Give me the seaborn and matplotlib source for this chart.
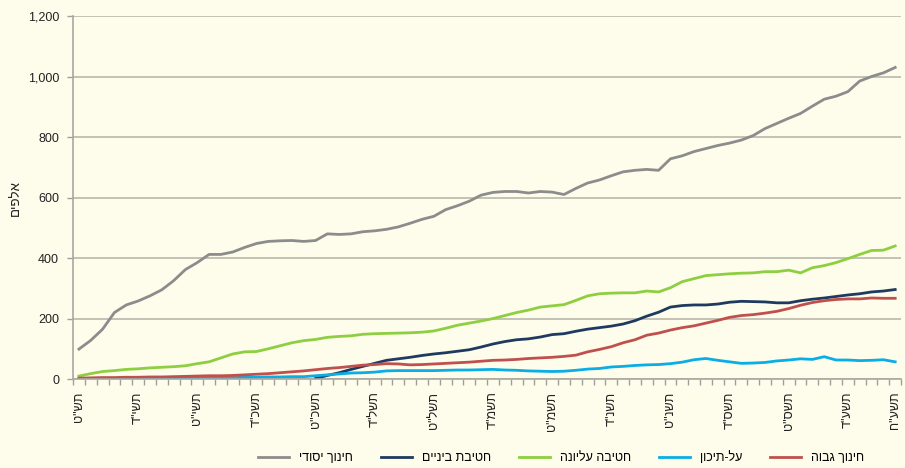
import matplotlib
matplotlib.use('Agg')
import matplotlib.pyplot as plt
import pandas as pd
import seaborn as sb
import numpy as np

# Hebrew has no bidi support in matplotlib -> reverse strings for display
def heb(s):
    return s[::-1]

tick_pos = [0, 5, 10, 15, 20, 25, 30, 35, 40, 45, 50, 55, 60, 65, 69]
tick_labels = ['תש"ט', 'תשי"ד', 'תשי"ט', 'תשכ"ד', 'תשכ"ט', 'תשל"ד', 'תשל"ט', 'תשמ"ד',
               'תשמ"ט', 'תשנ"ד', 'תשנ"ט', 'תשס"ד', 'תשס"ט', 'תשע"ד', 'תשע"ח']

primary = [99, 128, 165, 220, 245, 258, 275, 295, 325, 362,
           385, 412, 412, 420, 435, 448, 455, 457, 458, 455,
           458, 480, 478, 480, 487, 490, 495, 503, 515, 528,
           538, 560, 573, 588, 608, 617, 620, 620, 615, 620,
           618, 610, 630, 648, 658, 672, 685, 690, 693, 690,
           728, 738, 752, 762, 772, 780, 790, 805, 828, 845,
           862, 878, 902, 925, 935, 950, 985, 1000, 1012, 1030]

middle = [np.nan] * 20 + [
          2, 12, 21, 32, 42, 52, 62, 67, 72, 78,
          83, 87, 92, 97, 106, 116, 124, 130, 133, 139,
          147, 150, 158, 165, 170, 175, 182, 193, 208, 221,
          238, 243, 245, 245, 248, 254, 257, 256, 255, 252,
          252, 259, 264, 268, 273, 278, 282, 288, 291, 296]

upper = [10, 18, 25, 28, 32, 34, 37, 39, 41, 44,
         51, 57, 70, 83, 90, 91, 100, 110, 120, 127,
         131, 138, 141, 143, 148, 150, 151, 152, 153, 155,
         159, 168, 178, 185, 192, 200, 210, 220, 228, 238,
         242, 246, 260, 275, 282, 284, 285, 285, 291, 288,
         302, 322, 332, 342, 345, 348, 350, 351, 355, 355,
         360, 351, 368, 375, 385, 398, 412, 425, 426, 440]

post_secondary = [1, 1, 2, 2, 2, 3, 3, 3, 4, 4,
                  4, 5, 5, 5, 6, 6, 7, 7, 8, 8,
                  11, 14, 17, 20, 21, 23, 27, 28, 28, 28,
                  28, 29, 30, 30, 31, 32, 30, 29, 27, 26,
                  25, 26, 29, 33, 35, 40, 42, 45, 47, 48,
                  51, 56, 64, 68, 62, 57, 52, 53, 55, 60,
                  63, 67, 65, 74, 63, 63, 61, 62, 64, 57]

higher = [3, 4, 5, 5, 6, 6, 7, 7, 8, 9,
          10, 11, 11, 12, 14, 16, 18, 21, 24, 27,
          31, 35, 38, 42, 46, 48, 51, 50, 47, 48,
          50, 52, 54, 56, 59, 62, 63, 65, 68, 70,
          72, 75, 79, 90, 98, 107, 120, 130, 145, 152,
          162, 170, 176, 185, 194, 204, 210, 213, 218, 224,
          233, 244, 253, 259, 263, 265, 265, 268, 267, 267]

series_names = ['חינוך יסודי', 'חטיבת ביניים', 'חטיבה עליונה', 'על-תיכון', 'חינוך גבוה']
colors = ['#8C8C8C', '#1F3A60', '#8DCF40', '#0AAEE6', '#C0504D']

bg = '#FEFCEA'
plt.rcParams['font.family'] = ['Liberation Sans', 'DejaVu Sans']

frames = []
for name, vals in zip(series_names, [primary, middle, upper, post_secondary, higher]):
    frames.append(pd.DataFrame({'x': np.arange(len(vals)), 'value': vals, 'series': heb(name)}))
df = pd.concat(frames).dropna()

fig = plt.figure(figsize=[9.05, 4.68], dpi=100, facecolor=bg)
ax = fig.add_axes([0.0807, 0.19, 0.915, 0.7758])
ax.set_facecolor(bg)

sb.lineplot(data=df, x='x', y='value', hue='series',
            palette=dict(zip([heb(n) for n in series_names], colors)),
            linewidth=2.0, ax=ax, legend=True)

ax.set_xlim(-0.5, 69.5)
ax.set_ylim(0, 1200)
ax.set_yticks(range(0, 1201, 200))
ax.set_yticklabels([f'{v:,}' for v in range(0, 1201, 200)], fontsize=9, color='#222222')
ax.yaxis.grid(True, color='#C4C2B4', linewidth=1.4)
ax.set_axisbelow(True)

ax.set_xticks(tick_pos)
ax.set_xticklabels([heb(t) for t in tick_labels], rotation=90, fontsize=9, color='#222222')
ax.tick_params(axis='x', which='major', length=0, pad=9)
ax.set_xticks(np.arange(-0.5, 70, 1), minor=True)
ax.tick_params(axis='x', which='minor', length=4, color='#A0A0A0', width=1)
ax.tick_params(axis='y', length=4, color='#A0A0A0', width=1, pad=6)

ax.set_xlabel('')
ax.set_ylabel(heb('אלפים'), fontsize=9.5, color='#222222', labelpad=4)

for s in ['top', 'right']:
    ax.spines[s].set_visible(False)
for s in ['left', 'bottom']:
    ax.spines[s].set_color('#A8A8A0')
    ax.spines[s].set_linewidth(1.2)

handles, labels = ax.get_legend_handles_labels()
ax.legend_.remove()
fig.legend(handles, labels, loc='center', bbox_to_anchor=(0.62, 0.022), ncol=5,
           frameon=False, fontsize=9, handlelength=2.5, columnspacing=2.2, handletextpad=0.8)

fig.savefig('out.png', dpi=100, facecolor=bg)
